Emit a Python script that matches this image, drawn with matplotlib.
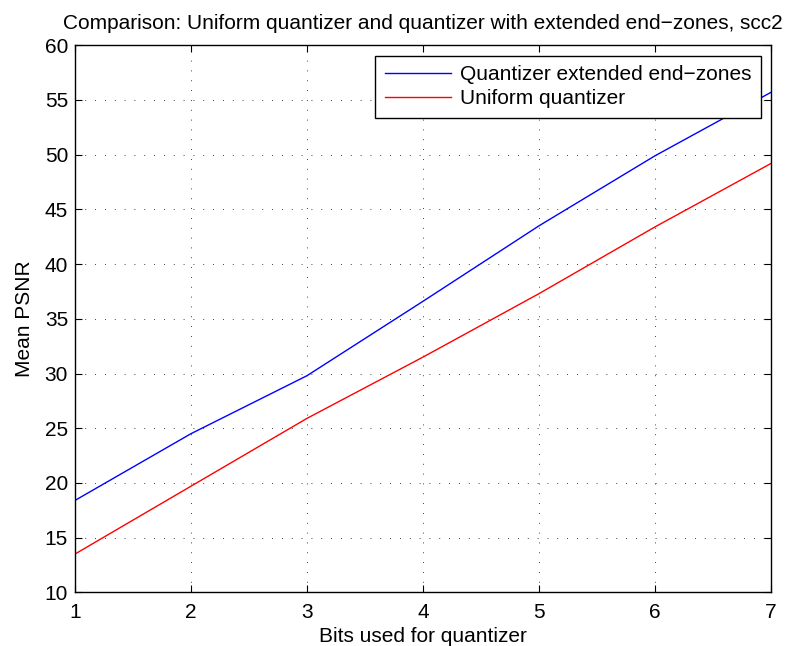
import matplotlib
matplotlib.use("Agg")
import matplotlib.pyplot as plt

bits = [1, 2, 3, 4, 5, 6, 7]
psnr_extended = [18.4, 24.5, 29.8, 36.6, 43.5, 49.9, 55.7]
psnr_uniform = [13.5, 19.7, 25.9, 31.5, 37.3, 43.4, 49.2]
yticks = [10, 15, 20, 25, 30, 35, 40, 45, 50, 55, 60]

plt.rcParams['font.family'] = ['Liberation Sans', 'DejaVu Sans']

fig = plt.figure(figsize=(7.92, 6.46), dpi=100)
ax = fig.add_axes([0.0947, 0.0831, 0.8788, 0.8468])

ax.plot(bits, psnr_extended, color='#0000ff', lw=1.0, label='Quantizer extended end\u2212zones')
ax.plot(bits, psnr_uniform, color='#ff0000', lw=1.0, label='Uniform quantizer')

ax.set_xlim(1, 7)
ax.set_ylim(10, 60)
ax.set_xticks(bits)
ax.set_yticks(yticks)
ax.tick_params(direction='in', length=5, labelsize=15, top=True, right=True, width=0.8)
ax.tick_params(axis='x', pad=8)
ax.tick_params(axis='y', pad=5)
ax.grid(True, color='black', linestyle=(0, (1, 10.8)), linewidth=0.6)
for s in ax.spines.values():
    s.set_linewidth(1.0)

ax.set_xlabel('Bits used for quantizer', fontsize=15, labelpad=3)
ax.set_ylabel('Mean PSNR', fontsize=15, labelpad=8)
ax.set_title('Comparison: Uniform quantizer and quantizer with extended end\u2212zones, scc2',
             fontsize=15, pad=11.5)

leg = ax.legend(loc='upper right', fontsize=15, frameon=True, fancybox=False,
                edgecolor='black', framealpha=1, borderaxespad=0.5,
                handlelength=3.2, handletextpad=0.4, borderpad=0.45, labelspacing=0.25)
leg.get_frame().set_linewidth(1.0)

fig.savefig('out.png', dpi=100)
